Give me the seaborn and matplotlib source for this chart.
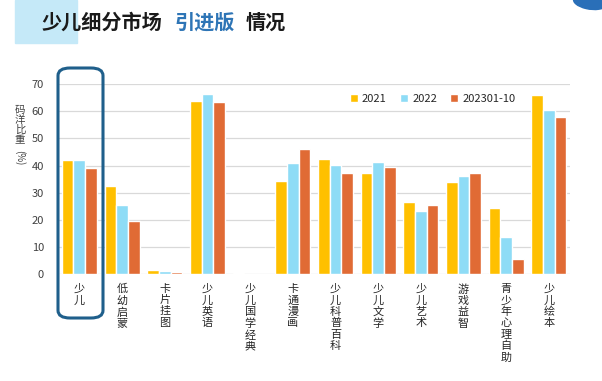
import matplotlib.pyplot as plt
import matplotlib.patches as mpatches
import seaborn as sns
import pandas as pd

# categories and values
categories = ['少儿', '低幼启蒙', '卡片挂图', '少儿英语', '少儿国学经典', '卡通漫画',
              '少儿科普百科', '少儿文学', '少儿艺术', '游戏益智', '青少年心理自助', '少儿绘本']
series = ['2021', '2022', '202301-10']
v2021 = [42.0, 32.5, 1.6, 63.8, 0.4, 34.4, 42.4, 37.2, 26.6, 34.0, 24.5, 65.9]
v2022 = [42.0, 25.5, 1.2, 66.3, 0.0, 40.9, 40.2, 41.3, 23.3, 36.1, 13.8, 60.6]
v2023 = [39.2, 19.6, 0.8, 63.3, 0.0, 46.0, 37.2, 39.4, 25.5, 37.2, 5.6, 57.8]
colors = ['#FFC000', '#8EDCF6', '#E06B35']

df = pd.DataFrame({
    'cat': categories * 3,
    'year': [s for s in series for _ in categories],
    'val': v2021 + v2022 + v2023,
})

sns.set_style('white')
plt.rcParams['font.family'] = ['Noto Sans CJK SC', 'DejaVu Sans']

fig = plt.figure(figsize=(6.02, 3.81), dpi=100)
ax = fig.add_axes([0.0963, 0.280, 0.851, 0.4995])

sns.barplot(data=df, x='cat', y='val', hue='year', palette=colors,
            width=0.82, gap=0, ax=ax, saturation=1)

ax.set_ylim(0, 70)
ax.set_xlim(-0.5, len(categories) - 0.5)
ax.set_yticks(range(0, 71, 10))
ax.yaxis.grid(True, color='#d9d9d9', linewidth=0.9)
ax.set_axisbelow(True)
for s in ax.spines.values():
    s.set_visible(False)
ax.tick_params(axis='y', labelsize=8, colors='#404040', length=0, pad=10)
ax.tick_params(axis='x', length=0, pad=7)
ax.set_xticks(range(len(categories)))
ax.set_xticklabels(['\n'.join(c) for c in categories], fontsize=8,
                   color='#262626', va='top', linespacing=1.15)
ax.set_xlabel('')
ax.set_ylabel('')

# y label: upright stacked characters, then the unit turned
fig.text(20 / 602, 1 - 125 / 381, '\n'.join('码洋比重'), fontsize=7.5, color='#404040',
         ha='center', va='center', linespacing=1.0)
fig.text(20 / 602, 1 - 158 / 381, '(%)', fontsize=7, color='#404040',
         rotation=-90, ha='center', va='center')

leg = ax.legend(loc='upper left', bbox_to_anchor=(0.55, 1.0), ncol=3, frameon=False,
                fontsize=8, handlelength=0.7, handleheight=0.7, columnspacing=1.2,
                handletextpad=0.4)

# highlight box round the first category
box = mpatches.FancyBboxPatch((58 / 602, (381 - 318) / 381), 45 / 602, 250 / 381,
                              boxstyle='round,pad=0,rounding_size=0.02',
                              transform=fig.transFigure, fill=False,
                              edgecolor='#1F5F8B', linewidth=2.2, zorder=5)
fig.patches.append(box)

# title with pale block behind
fig.patches.append(mpatches.Rectangle((15 / 602, (381 - 43) / 381), 62 / 602, 43 / 381,
                                      transform=fig.transFigure, color='#C5E9F8', zorder=0))
fig.text(42 / 602, 1 - 22 / 381, '少儿细分市场', fontsize=14.5, fontweight='bold',
         color='#1a1a1a', va='center', ha='left')
fig.text(175 / 602, 1 - 22 / 381, '引进版', fontsize=14.5, fontweight='bold',
         color='#2E75B6', va='center', ha='left')
fig.text(246 / 602, 1 - 22 / 381, '情况', fontsize=14.5, fontweight='bold',
         color='#1a1a1a', va='center', ha='left')

# corner logo fragment
fig.patches.append(mpatches.Ellipse((590 / 602, 1 - 2 / 381), 34 / 602, 14 / 381, angle=-20,
                                    transform=fig.transFigure, color='#2A6FB8', zorder=1))

fig.savefig('out.png', dpi=100)
